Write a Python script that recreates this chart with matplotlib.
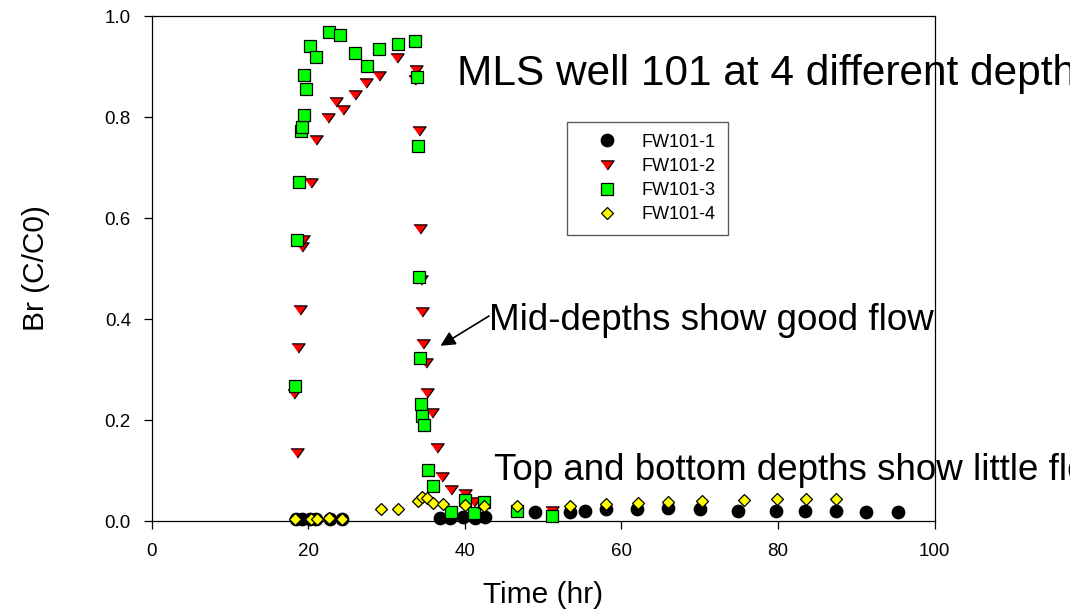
import matplotlib
matplotlib.use('Agg')
import matplotlib.pyplot as plt

plt.rcParams['font.family'] = ['Liberation Sans', 'DejaVu Sans']

# FW101-1 (black circles)
time_1 = [18.5, 19.2, 20.3, 21.0, 22.8, 24.3, 36.8, 38.1, 39.8, 41.3, 42.6, 49.0,
          53.5, 55.4, 58.1, 62.0, 65.9, 70.1, 74.9, 79.8, 83.5, 87.4, 91.3, 95.3]
conc_1 = [0.004, 0.004, 0.004, 0.004, 0.004, 0.004, 0.006, 0.006, 0.007, 0.006, 0.007, 0.018,
          0.018, 0.020, 0.023, 0.023, 0.025, 0.023, 0.020, 0.020, 0.020, 0.020, 0.018, 0.018]

# FW101-2 (red down triangles)
time_2 = [18.25, 18.55, 18.75, 19.0, 19.25, 19.4, 20.4, 21.05, 22.6, 23.5, 24.4, 26.0,
          27.4, 29.1, 31.4, 33.7, 33.8, 34.1, 34.3, 34.4, 34.6, 34.7, 35.0, 35.2, 35.8,
          36.4, 37.1, 38.3, 40.0, 41.2, 51.2]
conc_2 = [0.251, 0.135, 0.343, 0.418, 0.542, 0.556, 0.670, 0.754, 0.798, 0.830, 0.814, 0.844,
          0.867, 0.882, 0.916, 0.873, 0.893, 0.773, 0.578, 0.478, 0.414, 0.350, 0.312, 0.253, 0.214,
          0.145, 0.088, 0.061, 0.053, 0.038, 0.020]

# FW101-3 (green squares)
time_3 = [18.3, 18.55, 18.84, 19.05, 19.26, 19.5, 19.7, 19.5, 20.3, 21.05, 22.7, 24.1,
          26.0, 27.5, 29.1, 31.5, 33.7, 33.9, 34.0, 34.2, 34.3, 34.4, 34.6, 34.8, 35.3,
          35.9, 38.3, 40.0, 41.2, 42.4, 46.7, 51.2]
conc_3 = [0.267, 0.556, 0.671, 0.773, 0.781, 0.804, 0.855, 0.884, 0.941, 0.919, 0.969, 0.963,
          0.926, 0.902, 0.935, 0.945, 0.950, 0.879, 0.743, 0.483, 0.322, 0.232, 0.207, 0.191, 0.101,
          0.069, 0.018, 0.042, 0.015, 0.038, 0.020, 0.010]

# FW101-4 (yellow diamonds)
time_4 = [18.3, 20.4, 21.1, 22.7, 24.3, 29.3, 31.5, 34.0, 34.6, 35.2, 35.9, 37.2,
          40.0, 42.4, 46.7, 53.5, 58.1, 62.1, 66.0, 70.3, 75.7, 79.9, 83.6, 87.4]
conc_4 = [0.004, 0.004, 0.005, 0.006, 0.005, 0.023, 0.023, 0.039, 0.048, 0.045, 0.036, 0.034,
          0.032, 0.029, 0.030, 0.030, 0.033, 0.036, 0.038, 0.040, 0.042, 0.044, 0.044, 0.044]

series_labels = ['FW101-1', 'FW101-2', 'FW101-3', 'FW101-4']
x_ticks = [0, 20, 40, 60, 80, 100]
y_ticks = [0.0, 0.2, 0.4, 0.6, 0.8, 1.0]

fig = plt.figure(figsize=(10.7, 6.15), dpi=100)
ax = fig.add_axes([0.1416, 0.1528, 0.7318, 0.8211])

# flat down-pointing triangle like the original symbol
tri_down = [(-1, 0.7), (1, 0.7), (0, -0.7)]

common = dict(linestyle='none', mec='black', mew=0.9, clip_on=False, zorder=3)
ax.plot(time_1, conc_1, marker='o', ms=9, mfc='black', label=series_labels[0], **common)
ax.plot(time_2, conc_2, marker=tri_down, ms=9.5, mfc='#ff0000', label=series_labels[1], **common)
ax.plot(time_3, conc_3, marker='s', ms=8, mfc='#00ff00', label=series_labels[2], **common)
ax.plot(time_4, conc_4, marker='D', ms=6.3, mfc='#ffff00', label=series_labels[3], **common)

ax.set_xlim(0, 100)
ax.set_ylim(0, 1.0)
ax.set_xticks(x_ticks)
ax.set_xticklabels([str(t) for t in x_ticks])
ax.set_yticks(y_ticks)
ax.set_yticklabels(['%.1f' % t for t in y_ticks])
ax.tick_params(direction='out', length=5.8, width=0.9, labelsize=13.5, top=False, right=False)
ax.tick_params(axis='x', pad=10)
ax.tick_params(axis='y', pad=9)
for sp in ax.spines.values():
    sp.set_linewidth(0.9)
    sp.set_color('black')

ax.set_xlabel('Time (hr)', fontsize=21.5, va='top')
ax.xaxis.set_label_coords(0.5, -0.118)
ax.set_ylabel('Br (C/C0)', fontsize=21.5)
ax.yaxis.set_label_coords(-0.130, 0.5)

# legend box
leg = ax.legend(loc='upper left', bbox_to_anchor=(567 / 1070, 1 - 122 / 615),
                bbox_transform=fig.transFigure, fontsize=13, frameon=True,
                fancybox=False, edgecolor='#333333', borderpad=0.65,
                labelspacing=0.4, handlelength=3.1, handletextpad=0.4,
                numpoints=1, borderaxespad=0)
leg.get_frame().set_linewidth(1.0)

# annotations
ax.text(39.0, 0.863, 'MLS well 101 at 4 different depths', fontsize=30.5, va='baseline', ha='left')
ax.text(43.1, 0.378, 'Mid-depths show good flow', fontsize=26.5, va='baseline', ha='left')
ax.text(43.7, 0.081, 'Top and bottom depths show little flow', fontsize=26.5, va='baseline', ha='left')
ax.annotate('', xy=(36.9, 0.347), xytext=(43.1, 0.406),
            arrowprops=dict(arrowstyle='-|>', color='black', lw=1.2, mutation_scale=22,
                            shrinkA=0, shrinkB=0))

fig.savefig('out.png', dpi=100)
